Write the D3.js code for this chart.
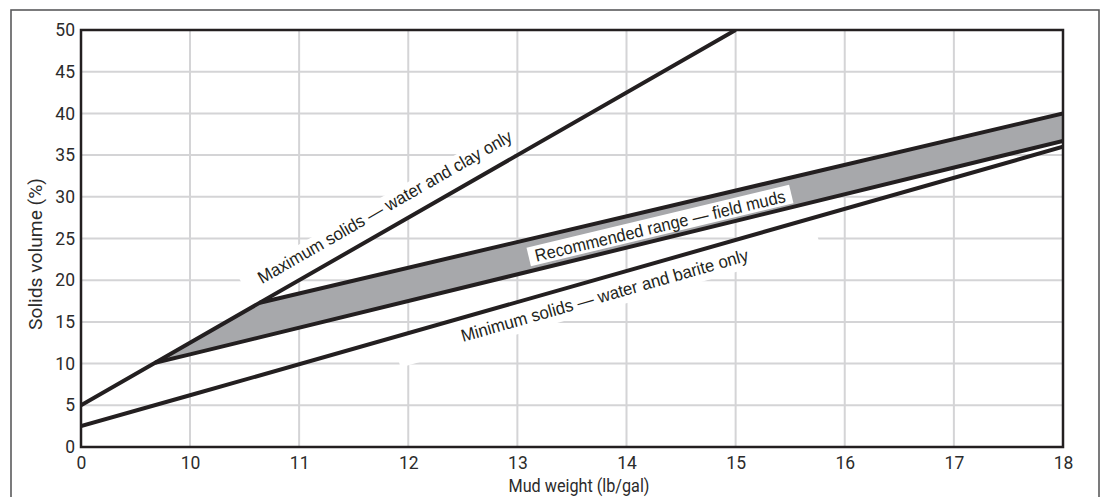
<!DOCTYPE html>
<html>
<head>
<meta charset="utf-8">
<script src="https://cdn.jsdelivr.net/npm/d3@7"></script>
<style>
  html, body { margin: 0; padding: 0; background: #fff; }
  svg { display: block; font-family: Roboto, "Liberation Sans", sans-serif; }
</style>
</head>
<body>
<svg id="chart" width="1103" height="497"></svg>
<script>
// Mud weight (lb/gal) tick positions; the axis is broken between 0 and 10
const xTicks = [0, 10, 11, 12, 13, 14, 15, 16, 17, 18];
const yTicks = [0, 5, 10, 15, 20, 25, 30, 35, 40, 45, 50];

// Solids volume (%) against mud weight, as [mud weight, solids %]
const maxSolids = [[0, 5], [10, 12.5], [15, 50]];          // water and clay only
const minSolids = [[0, 2.5], [10, 6.2], [18, 36]];         // water and barite only
const rangeUpper = [[10.64, 17.3], [18, 40]];              // recommended range, upper edge
const rangeLower = [[6.8, 10.1], [10, 11.1], [18, 36.7]];  // recommended range, lower edge
const rangeArea = [[6.8, 10.1], [10, 12.5], [10.64, 17.3], [18, 40], [18, 36.7], [10, 11.1]];

const labels = {
  max: "Maximum solids \u2014 water and clay only",
  range: "Recommended range \u2014 field muds",
  min: "Minimum solids \u2014 water and barite only",
  x: "Mud weight (lb/gal)",
  y: "Solids volume (%)"
};

const ink = "#231f20";
const textInk = "#2b2b2b";
const capFont = "'Liberation Sans', Arial, sans-serif";
const svg = d3.select("#chart");

const plot = { left: 81, right: 1063, top: 30, bottom: 447 };

// Piecewise scale: 0..10 squeezed into one cell, then one cell per lb/gal
const x = d3.scaleLinear().domain([0, 10, 18]).range([plot.left, 190, plot.right]);
const y = d3.scaleLinear().domain([0, 50]).range([plot.bottom, plot.top]);

// Outer frame
svg.append("rect")
  .attr("x", 11).attr("y", 10).attr("width", 1088).attr("height", 520)
  .attr("fill", "none").attr("stroke", "#5a5a5c").attr("stroke-width", 1.6);

// Grid
const grid = svg.append("g").attr("stroke", "#d4d4d6").attr("stroke-width", 2);
grid.selectAll("line.v").data(xTicks.filter(d => d > 0 && d < 18)).join("line")
  .attr("x1", d => x(d)).attr("x2", d => x(d))
  .attr("y1", plot.top).attr("y2", plot.bottom);
grid.selectAll("line.h").data(yTicks.filter(d => d > 0 && d < 50)).join("line")
  .attr("x1", plot.left).attr("x2", plot.right)
  .attr("y1", d => y(d)).attr("y2", d => y(d));

const line = d3.line().x(d => x(d[0])).y(d => y(d[1]));

// Screen position and angle on a series at a given screen x
function onSeries(series, px) {
  const pts = series.map(d => [x(d[0]), y(d[1])]);
  for (let i = 0; i < pts.length - 1; i++) {
    const [x0, y0] = pts[i], [x1, y1] = pts[i + 1];
    if (px >= x0 && px <= x1 || i === pts.length - 2) {
      const t = (px - x0) / (x1 - x0);
      return { x: px, y: y0 + t * (y1 - y0), angle: Math.atan2(y1 - y0, x1 - x0) * 180 / Math.PI };
    }
  }
}

// White backing bands behind the line captions
const backs = svg.append("g").attr("fill", "#fff");
const pMax = onSeries(maxSolids, 269.5);
backs.append("g").attr("transform", `translate(${pMax.x},${pMax.y}) rotate(${pMax.angle})`)
  .append("rect").attr("x", -17).attr("y", -31).attr("width", 300).attr("height", 31);

const pMin = onSeries(minSolids, 456.5);
backs.append("g").attr("transform", `translate(${pMin.x},${pMin.y}) rotate(${pMin.angle})`)
  .append("rect").attr("x", -67).attr("y", 0).attr("width", 437).attr("height", 31);

svg.append("clipPath").attr("id", "plotClip").append("rect")
  .attr("x", plot.left).attr("y", plot.top)
  .attr("width", plot.right - plot.left).attr("height", plot.bottom - plot.top);

const marks = svg.append("g").attr("clip-path", "url(#plotClip)");

// Recommended range band
marks.append("path").datum(rangeArea)
  .attr("d", d3.line().x(d => x(d[0])).y(d => y(d[1])).curve(d3.curveLinearClosed))
  .attr("fill", "#a7a8ab");

[maxSolids, minSolids, rangeUpper, rangeLower].forEach(s => {
  marks.append("path").datum(s).attr("d", line)
    .attr("fill", "none").attr("stroke", ink).attr("stroke-width", 4)
    .attr("stroke-linejoin", "miter");
});

// Captions, squeezed to a condensed look via textLength
const capStyle = sel => sel.attr("font-size", 17.5).attr("font-family", capFont)
  .attr("fill", ink).attr("lengthAdjust", "spacingAndGlyphs");

svg.append("g").attr("transform", `translate(${pMax.x},${pMax.y}) rotate(${pMax.angle})`)
  .append("text").text(labels.max).attr("x", 0).attr("y", -15)
  .attr("textLength", 290).call(capStyle);

svg.append("g").attr("transform", `translate(${pMin.x},${pMin.y}) rotate(${pMin.angle})`)
  .append("text").text(labels.min).attr("x", 0).attr("y", 23.5)
  .attr("textLength", 298).call(capStyle);

const rx = 660;
const up = onSeries(rangeUpper, rx), lo = onSeries(rangeLower, rx);
const rAngle = (up.angle + lo.angle) / 2;
const gRange = svg.append("g")
  .attr("transform", `translate(${rx},${(up.y + lo.y) / 2 + 1.5}) rotate(${rAngle})`);
gRange.append("rect").attr("x", -135).attr("y", -9.5).attr("width", 270).attr("height", 19).attr("fill", "#fff");
gRange.append("text").text(labels.range).attr("x", 0).attr("y", 0.5)
  .attr("text-anchor", "middle").attr("dominant-baseline", "central")
  .attr("textLength", 257).call(capStyle);

// Plot frame
svg.append("rect")
  .attr("x", plot.left).attr("y", plot.top)
  .attr("width", plot.right - plot.left).attr("height", plot.bottom - plot.top)
  .attr("fill", "none").attr("stroke", ink).attr("stroke-width", 2.5);

// Axes (labels only; the frame carries the axis lines)
const xAxis = svg.append("g").attr("transform", `translate(0,${plot.bottom})`)
  .call(d3.axisBottom(x).tickValues(xTicks).tickFormat(d3.format("d")).tickSize(0).tickPadding(10));
const yAxis = svg.append("g").attr("transform", `translate(${plot.left},0)`)
  .call(d3.axisLeft(y).tickValues(yTicks).tickFormat(d3.format("d")).tickSize(0).tickPadding(6));
[xAxis, yAxis].forEach(a => {
  a.select(".domain").remove();
  a.selectAll("text").attr("font-size", 17.5).attr("fill", textInk)
    .attr("font-family", "Roboto, 'Liberation Sans', sans-serif");
});

svg.append("text").text(labels.x)
  .attr("x", 579).attr("y", 492).attr("text-anchor", "middle")
  .attr("font-size", 17.5).attr("fill", textInk)
  .attr("textLength", 141).attr("lengthAdjust", "spacingAndGlyphs");
svg.append("text").text(labels.y)
  .attr("transform", "translate(42,254) rotate(-90)").attr("text-anchor", "middle")
  .attr("font-size", 17.5).attr("fill", textInk)
  .attr("textLength", 152).attr("lengthAdjust", "spacingAndGlyphs");
</script>
</body>
</html>
